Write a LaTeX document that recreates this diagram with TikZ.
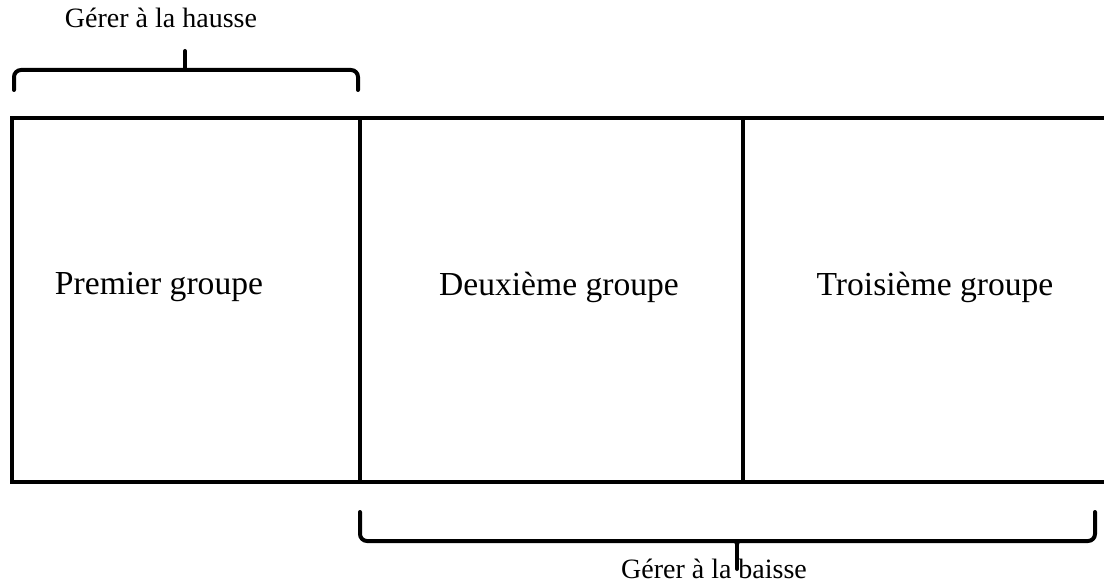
\documentclass[tikz,border=0pt]{standalone}
\usepackage{fontspec}
\setmainfont{Liberation Serif}
\usetikzlibrary{positioning}
\tikzset{groupbox/.style={rectangle, draw=black, line width=4pt, inner sep=0pt, outer sep=0pt,
minimum height=364pt},
lbl/.style={inner sep=0pt, font=\fontsize{33.6}{40}\selectfont},
bracelbl/.style={inner sep=0pt, font=\fontsize{28}{34}\selectfont},
brace/.style={draw=black, line width=4pt, rounded corners=7pt, line cap=round}}

\begin{document}
\begin{tikzpicture}[x=1pt,y=-1pt]
  \useasboundingbox (0,0) rectangle (1104,585);
  % the three groups side by side
  \node (g1) [groupbox, minimum width=348pt, anchor=north west] at (12,118) {};
  \node (g2) [groupbox, minimum width=383pt, anchor=north west] at (g1.north east) {};
  \node (g3) [groupbox, minimum width=380pt, anchor=north west] at (g2.north east) {};

  \node (t1) [lbl] at (159,287) {Premier groupe};
  \node (t2) [lbl] at (559,287) {Deuxième groupe};
  \node (t3) [lbl] at (935,287) {Troisième groupe};

  % brace above the first group
  \coordinate (ha) at (14,90);
  \coordinate (hb) at (358,90);
  \coordinate (hmid) at (185,70);
  \coordinate (htip) at (185,51);
  \draw [brace] (ha) -- (14,70) -- (358,70) -- (hb);
  \draw [brace] (hmid) -- (htip);
  \fill (182,72) -- (185,63) -- (188,72) -- cycle;
  \node (hausse) [bracelbl, anchor=base] at (161,28) {Gérer à la hausse};

  % brace below the second and third groups
  \coordinate (ba) at (360,512);
  \coordinate (bb) at (1095,512);
  \coordinate (bmid) at (737,541);
  \coordinate (btip) at (737,569);
  \draw [brace] (ba) -- (360,541) -- (1095,541) -- (bb);
  \draw [brace] (bmid) -- (btip);
  \fill (733,539) -- (737,550) -- (741,539) -- cycle;
  \node (baisse) [bracelbl, anchor=base] at (714,578) {Gérer à la baisse};
\end{tikzpicture}
\end{document}
